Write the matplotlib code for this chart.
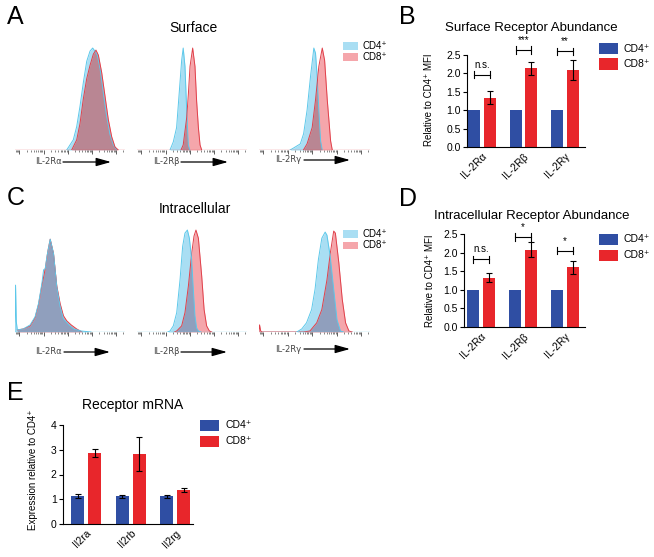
"""Receptor abundance figure: flow histograms (A, C) and bar summaries (B, D, E)."""

import matplotlib

matplotlib.use("Agg")

import matplotlib.pyplot as plt
import numpy as np
from matplotlib.patches import FancyArrowPatch, Rectangle

plt.rcParams["font.family"] = ["Liberation Sans", "DejaVu Sans"]

W, H = 654, 557

# ---- histogram traces (x in % of axis width, height relative to mode) ----
surf_ra_cd4_x = [47.0, 53.0, 56.1, 59.1, 62.1, 65.2, 68.2, 70.6, 72.7, 74.8, 77.3, 80.3, 83.3, 86.4, 89.4, 92.4]
surf_ra_cd4_y = [0, 0.10, 0.23, 0.43, 0.66, 0.87, 0.97, 1.0, 0.97, 0.93, 0.80, 0.56, 0.33, 0.15, 0.05, 0]
surf_ra_cd8_x = [51.5, 56.1, 59.1, 62.1, 65.2, 68.2, 71.2, 73.6, 75.8, 78.8, 81.8, 84.8, 87.9, 90.9, 93.9]
surf_ra_cd8_y = [0, 0.10, 0.26, 0.50, 0.70, 0.83, 0.94, 0.98, 0.93, 0.76, 0.53, 0.30, 0.13, 0.03, 0]

surf_rb_cd4_x = [30, 33, 36, 39, 40.6, 42, 43.6, 45.2, 46.7, 48]
surf_rb_cd4_y = [0, 0.08, 0.22, 0.65, 0.88, 1.0, 0.82, 0.38, 0.05, 0]
surf_rb_cd8_x = [40, 42, 45.2, 46.7, 48.2, 50.6, 52.7, 54.2, 55.8, 57.3, 58.8]
surf_rb_cd8_y = [0, 0.05, 0.32, 0.55, 0.82, 1.0, 0.82, 0.48, 0.22, 0.05, 0]

surf_rg_cd4_x = [28, 31.2, 37.2, 40.2, 43.3, 46.4, 49.4, 50.9, 52.4, 53.9, 55.5, 57]
surf_rg_cd4_y = [0, 0.02, 0.06, 0.16, 0.39, 0.72, 1.0, 0.95, 0.72, 0.39, 0.09, 0]
surf_rg_cd8_x = [40, 43.3, 47.9, 50.9, 53.9, 57, 59.1, 61.5, 64.5, 66]
surf_rg_cd8_y = [0, 0.06, 0.22, 0.49, 0.82, 1.0, 0.88, 0.49, 0.09, 0]

intra_ra_cd4_x = [0, 0.5, 1.2, 2.1, 7.6, 13.8, 18.3, 21.4, 24.5, 26, 27.5, 29, 32, 35, 38, 41, 44, 49, 53.5, 60, 69]
intra_ra_cd4_y = [0, 0.46, 0.10, 0.02, 0.03, 0.07, 0.15, 0.28, 0.48, 0.61, 0.62, 0.74, 0.91, 0.77, 0.44, 0.25, 0.13, 0.07, 0.03, 0.01, 0]
intra_ra_cd8_x = [2.1, 7.6, 13.8, 18.3, 21.4, 24.5, 27.5, 30, 32, 35, 38, 41, 44, 47, 51, 56, 61]
intra_ra_cd8_y = [0.02, 0.03, 0.06, 0.14, 0.27, 0.46, 0.62, 0.80, 0.91, 0.77, 0.45, 0.28, 0.16, 0.11, 0.07, 0.03, 0]

intra_rb_cd4_x = [28, 30, 33, 36.1, 39.1, 41.5, 43.6, 45.8, 47.6, 49.7, 51.2, 52.7, 54.2, 55.8, 58]
intra_rb_cd4_y = [0, 0.01, 0.06, 0.19, 0.51, 0.84, 0.97, 1.0, 0.92, 0.71, 0.42, 0.16, 0.04, 0.01, 0]
intra_rb_cd8_x = [34, 36.1, 40.6, 43.6, 46.7, 49.7, 51.8, 53.6, 55.8, 58.8, 61, 63.3, 65.8, 68]
intra_rb_cd8_y = [0, 0.01, 0.06, 0.19, 0.45, 0.77, 0.94, 1.0, 0.92, 0.55, 0.22, 0.06, 0.01, 0]

intra_rg_cd4_x = [34, 38.5, 42.8, 47.4, 50.5, 53.5, 56.6, 59.6, 61.2, 64.2, 67.3, 70.3, 73.4, 76]
intra_rg_cd4_y = [0, 0.03, 0.09, 0.22, 0.42, 0.71, 0.92, 0.98, 0.95, 0.74, 0.42, 0.12, 0.01, 0]
intra_rg_cd8_x = [0, 0.5, 1.5, 3, 40, 45.9, 52, 56.6, 61.2, 64.2, 67.3, 68.8, 71.9, 75, 78, 81, 84]
intra_rg_cd8_y = [0, 0.07, 0.01, 0, 0, 0.01, 0.09, 0.22, 0.51, 0.77, 0.99, 0.97, 0.68, 0.32, 0.09, 0.01, 0]

hist_labels = ["IL-2Rα", "IL-2Rβ", "IL-2Rγ"]

# ---- bar data ----
protein_cats = ["IL-2Rα", "IL-2Rβ", "IL-2Rγ"]
surf_cd4 = [1.0, 1.0, 1.0]
surf_cd8 = [1.34, 2.14, 2.09]
surf_cd8_err = [0.18, 0.17, 0.27]
surf_sig = ["n.s.", "***", "**"]
surf_sig_y = [1.97, 2.64, 2.60]

intra_cd4 = [1.0, 1.0, 1.0]
intra_cd8 = [1.33, 2.08, 1.60]
intra_cd8_err = [0.12, 0.21, 0.18]
intra_sig = ["n.s.", "*", "*"]
intra_sig_y = [1.82, 2.42, 2.05]

mrna_cats = ["Il2ra", "Il2rb", "Il2rg"]
mrna_cd4 = [1.14, 1.13, 1.13]
mrna_cd4_err = [0.07, 0.06, 0.06]
mrna_cd8 = [2.86, 2.83, 1.37]
mrna_cd8_err = [0.17, 0.68, 0.09]

CYAN_FILL = "#a9def3"
CYAN_EDGE = "#5cc8ea"
PINK_FILL = "#f5a6ab"
RED_EDGE = "#e0404a"
BLUE = "#2f4ea3"
RED = "#e8262b"
CD4 = "CD4\u207a"
CD8 = "CD8\u207a"

fig = plt.figure(figsize=(W / 100, H / 100), dpi=100)


def px_axes(left, top, right, bottom):
    return fig.add_axes([left / W, 1 - bottom / H, (right - left) / W, (bottom - top) / H])


def ptext(x, y, s, **kw):
    kw.setdefault("va", "center")
    fig.text(x / W, 1 - y / H, s, **kw)


def pbox(x0, y0, x1, y1, color):
    fig.add_artist(Rectangle((x0 / W, 1 - y1 / H), (x1 - x0) / W, (y1 - y0) / H,
                             transform=fig.transFigure, color=color, lw=0))


def parrow(x0, x1, y):
    fig.add_artist(FancyArrowPatch((x0 / W, 1 - y / H), (x1 / W, 1 - y / H),
                                   transform=fig.transFigure, color="black", lw=0.9,
                                   arrowstyle="-|>,head_length=1.0,head_width=0.28",
                                   mutation_scale=9, shrinkA=0, shrinkB=0))


def draw_hist(ax, cd4_x, cd4_y, cd8_x, cd8_y, overlap, red_on_top):
    fc = ax.fill_between(cd4_x, 0, cd4_y, color=CYAN_FILL, lw=0)
    ax.fill_between(cd8_x, 0, cd8_y, color=PINK_FILL, lw=0)
    ov = ax.fill_between(cd8_x, 0, cd8_y, color=overlap, lw=0)
    ov.set_clip_path(fc.get_paths()[0], ax.transData)
    lines = [(cd4_x, cd4_y, CYAN_EDGE), (cd8_x, cd8_y, RED_EDGE)]
    if not red_on_top:
        lines = lines[::-1]
    for xs, ys, c in lines:
        ax.plot(xs, ys, color=c, lw=0.7)
    ax.axhline(0, color=lines[-1][2], lw=0.9)
    ax.set_xlim(0, 100)
    ax.set_ylim(0, 1.02)
    for side in ("left", "right", "top", "bottom"):
        ax.spines[side].set_visible(False)
    ax.set_yticks([])
    majors = [4, 26, 48, 70, 92]
    minors = [m + 22 * np.log10(k) for m in [-18] + majors for k in range(2, 10)]
    minors = [v for v in minors if 0 <= v <= 100]
    ax.set_xticks(majors)
    ax.set_xticks(minors, minor=True)
    ax.tick_params(axis="x", which="major", length=3, width=0.6, color="#444444", labelbottom=False)
    ax.tick_params(axis="x", which="minor", length=1.6, width=0.5, color="#555555")
    ax.patch.set_alpha(0)


def draw_bars(ax, cats, cd4, cd4_err, cd8, cd8_err, ylim, yticks, fmt, xlim, sig=None, sig_y=None):
    x = np.arange(len(cats))
    ekw = dict(ecolor="black", elinewidth=0.8, capsize=2.5, capthick=0.8)
    ax.bar(x - 0.19, cd4, 0.29, color=BLUE, yerr=cd4_err, error_kw=ekw)
    ax.bar(x + 0.19, cd8, 0.29, color=RED, yerr=cd8_err, error_kw=ekw)
    if sig:
        for xi, s, y in zip(x, sig, sig_y):
            ax.plot([xi - 0.19, xi + 0.19], [y, y], color="black", lw=0.8, clip_on=False)
            for xe in (xi - 0.19, xi + 0.19):
                ax.plot([xe, xe], [y - 0.1, y + 0.1], color="black", lw=0.8, clip_on=False)
            ax.annotate(s, (xi, y), xytext=(0, 3.5), textcoords="offset points",
                        ha="center", va="bottom", fontsize=7, annotation_clip=False)
    ax.set_xlim(*xlim)
    ax.set_ylim(*ylim)
    ax.set_yticks(yticks)
    ax.set_yticklabels([fmt.format(v) for v in yticks])
    ax.set_xticks(x)
    ax.set_xticklabels(cats, rotation=45, ha="right", rotation_mode="anchor", fontsize=7.5)
    ax.tick_params(axis="x", length=0, pad=3)
    ax.tick_params(axis="y", length=3, width=0.8, labelsize=7.5, pad=1.5)
    for side in ("right", "top"):
        ax.spines[side].set_visible(False)
    for side in ("left", "bottom"):
        ax.spines[side].set_linewidth(0.8)
    ax.patch.set_alpha(0)


# ---- panel A and C: histograms ----
hist_cols = [(15, 125), (137, 247), (259, 370)]
surf_sets = [
    (surf_ra_cd4_x, surf_ra_cd4_y, surf_ra_cd8_x, surf_ra_cd8_y),
    (surf_rb_cd4_x, surf_rb_cd4_y, surf_rb_cd8_x, surf_rb_cd8_y),
    (surf_rg_cd4_x, surf_rg_cd4_y, surf_rg_cd8_x, surf_rg_cd8_y),
]
intra_sets = [
    (intra_ra_cd4_x, intra_ra_cd4_y, intra_ra_cd8_x, intra_ra_cd8_y),
    (intra_rb_cd4_x, intra_rb_cd4_y, intra_rb_cd8_x, intra_rb_cd8_y),
    (intra_rg_cd4_x, intra_rg_cd4_y, intra_rg_cd8_x, intra_rg_cd8_y),
]
for (l, r), data in zip(hist_cols, surf_sets):
    draw_hist(px_axes(l, 46, r, 150), *data, overlap="#b98693", red_on_top=True)
for (l, r), data in zip(hist_cols, intra_sets):
    draw_hist(px_axes(l, 228, r, 332), *data, overlap="#909fbd", red_on_top=False)

label_pos_a = [(35, 63, 111, 162), (153, 181, 228, 162), (275, 304, 350, 160)]
label_pos_c = [(35, 64, 110, 352), (153, 181, 227, 352), (275, 304, 350, 349)]
for lab, (tx, a0, a1, y) in zip(hist_labels, label_pos_a):
    ptext(tx, y, lab, fontsize=6.0, color="#444444", family=["DejaVu Sans"])
    parrow(a0, a1, y)
for lab, (tx, a0, a1, y) in zip(hist_labels, label_pos_c):
    ptext(tx, y, lab, fontsize=6.0, color="#444444", family=["DejaVu Sans"])
    parrow(a0, a1, y)

ptext(193, 28, "Surface", ha="center", fontsize=10)
ptext(195, 209, "Intracellular", ha="center", fontsize=10)
for top in (42, 230):
    pbox(343, top, 358, top + 7.5, CYAN_FILL)
    pbox(343, top + 11.5, 358, top + 19, PINK_FILL)
    ptext(362, top + 3.8, CD4, fontsize=7)
    ptext(362, top + 15.3, CD8, fontsize=7)

# ---- panel B and D: protein abundance bars ----
ax_b = px_axes(467, 55, 585, 147)
draw_bars(ax_b, protein_cats, surf_cd4, None, surf_cd8, surf_cd8_err, (0, 2.5),
          [0, 0.5, 1.0, 1.5, 2.0, 2.5], "{:.1f}", (-0.36, 2.48), surf_sig, surf_sig_y)
ax_d = px_axes(464, 234, 585, 327)
draw_bars(ax_d, protein_cats, intra_cd4, None, intra_cd8, intra_cd8_err, (0, 2.5),
          [0, 0.5, 1.0, 1.5, 2.0, 2.5], "{:.1f}", (-0.40, 2.48), intra_sig, intra_sig_y)
ptext(429, 100, f"Relative to {CD4} MFI", rotation=90, ha="center", fontsize=7)
ptext(430, 281, f"Relative to {CD4} MFI", rotation=90, ha="center", fontsize=7)
ptext(531, 28, "Surface Receptor Abundance", ha="center", fontsize=9.5)
ptext(532, 216, "Intracellular Receptor Abundance", ha="center", fontsize=9.5)

# ---- panel E: mRNA ----
ax_e = px_axes(63, 425, 193, 524)
draw_bars(ax_e, mrna_cats, mrna_cd4, mrna_cd4_err, mrna_cd8, mrna_cd8_err, (0, 4),
          [0, 1, 2, 3, 4], "{:d}", (-0.52, 2.40))
ptext(33, 470, f"Expression relative to {CD4}", rotation=90, ha="center", fontsize=7)
ptext(133, 405, "Receptor mRNA", ha="center", fontsize=10)

# bar legends
for lx, ly in ((599, 43), (599, 234), (200, 420)):
    pbox(lx, ly, lx + 19, ly + 11, BLUE)
    pbox(lx, ly + 15.5, lx + 19, ly + 26.5, RED)
    ptext(lx + 25, ly + 5.5, CD4, fontsize=7.5)
    ptext(lx + 25, ly + 21, CD8, fontsize=7.5)

# panel letters
for letter, x, y in (("A", 7, 17), ("B", 399, 17), ("C", 7, 198), ("D", 399, 199), ("E", 7, 393)):
    ptext(x, y, letter, fontsize=18)

fig.savefig("out.png", dpi=100)
plt.close(fig)
